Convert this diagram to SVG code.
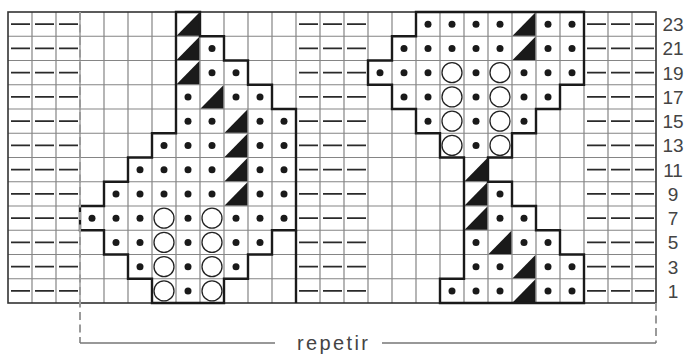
<svg xmlns="http://www.w3.org/2000/svg" width="684" height="354" viewBox="0 0 684 354">
<style>
.grid{fill:none;stroke:#858585;stroke-width:1.2}
.frame{fill:none;stroke:#333;stroke-width:1.6}
.dash{fill:none;stroke:#2a2a2a;stroke-width:1.8}
.thick{fill:none;stroke:#1a1a1a;stroke-width:2.4;stroke-linejoin:miter}
.rep{fill:none;stroke:#9a9a9a;stroke-width:2;stroke-dasharray:8 4.5}
.brk{fill:none;stroke:#777;stroke-width:1.5}
.lbl{font-family:"Liberation Sans",Arial,sans-serif;font-size:19px;fill:#444;text-anchor:middle}
</style>
<defs>
<circle id="d" cx="12" cy="12.125" r="3.5" fill="#1a1a1a"/>
<circle id="o" cx="12" cy="12.125" r="10" fill="#fff" stroke="#222" stroke-width="1.3"/>
<path id="t" d="M0.6,23.7 L23.4,23.7 L23.4,0.6 Z" fill="#1a1a1a"/>
</defs>
<rect x="0" y="0" width="684" height="354" fill="#fff"/>
<g id="grid">
<path class="grid" d="M32,12V303M56,12V303M80,12V303M104,12V303M128,12V303M152,12V303M176,12V303M200,12V303M224,12V303M248,12V303M272,12V303M296,12V303M320,12V303M344,12V303M368,12V303M392,12V303M416,12V303M440,12V303M464,12V303M488,12V303M512,12V303M536,12V303M560,12V303M584,12V303M608,12V303M632,12V303M8,36.25H656M8,60.5H656M8,84.75H656M8,109H656M8,133.25H656M8,157.5H656M8,181.75H656M8,206H656M8,230.25H656M8,254.5H656M8,278.75H656"/>
<rect class="frame" x="8" y="12" width="648" height="291"/>
</g>
<g id="edge-dashes">
<path class="dash" d="M11,24.13h19M35,24.13h19M59,24.13h19M299,24.13h19M323,24.13h19M347,24.13h19M587,24.13h19M611,24.13h19M635,24.13h19
M11,48.38h19M35,48.38h19M59,48.38h19M299,48.38h19M323,48.38h19M347,48.38h19M587,48.38h19M611,48.38h19M635,48.38h19
M11,72.63h19M35,72.63h19M59,72.63h19M299,72.63h19M323,72.63h19M347,72.63h19M587,72.63h19M611,72.63h19M635,72.63h19
M11,96.88h19M35,96.88h19M59,96.88h19M299,96.88h19M323,96.88h19M347,96.88h19M587,96.88h19M611,96.88h19M635,96.88h19
M11,121.13h19M35,121.13h19M59,121.13h19M299,121.13h19M323,121.13h19M347,121.13h19M587,121.13h19M611,121.13h19M635,121.13h19
M11,145.38h19M35,145.38h19M59,145.38h19M299,145.38h19M323,145.38h19M347,145.38h19M587,145.38h19M611,145.38h19M635,145.38h19
M11,169.63h19M35,169.63h19M59,169.63h19M299,169.63h19M323,169.63h19M347,169.63h19M587,169.63h19M611,169.63h19M635,169.63h19
M11,193.88h19M35,193.88h19M59,193.88h19M299,193.88h19M323,193.88h19M347,193.88h19M587,193.88h19M611,193.88h19M635,193.88h19
M11,218.13h19M35,218.13h19M59,218.13h19M299,218.13h19M323,218.13h19M347,218.13h19M587,218.13h19M611,218.13h19M635,218.13h19
M11,242.38h19M35,242.38h19M59,242.38h19M299,242.38h19M323,242.38h19M347,242.38h19M587,242.38h19M611,242.38h19M635,242.38h19
M11,266.63h19M35,266.63h19M59,266.63h19M299,266.63h19M323,266.63h19M347,266.63h19M587,266.63h19M611,266.63h19M635,266.63h19
M11,290.88h19M35,290.88h19M59,290.88h19M299,290.88h19M323,290.88h19M347,290.88h19M587,290.88h19M611,290.88h19M635,290.88h19"/>
</g>
<g id="motif-left">
<use href="#t" x="176" y="12"/>
<use href="#t" x="176" y="36.25"/><use href="#d" x="200" y="36.25"/>
<use href="#t" x="176" y="60.5"/><use href="#d" x="200" y="60.5"/><use href="#d" x="224" y="60.5"/>
<use href="#d" x="176" y="84.75"/><use href="#t" x="200" y="84.75"/><use href="#d" x="224" y="84.75"/><use href="#d" x="248" y="84.75"/>
<use href="#d" x="176" y="109"/><use href="#d" x="200" y="109"/><use href="#t" x="224" y="109"/><use href="#d" x="248" y="109"/><use href="#d" x="272" y="109"/>
<use href="#d" x="152" y="133.25"/><use href="#d" x="176" y="133.25"/><use href="#d" x="200" y="133.25"/><use href="#t" x="224" y="133.25"/><use href="#d" x="248" y="133.25"/><use href="#d" x="272" y="133.25"/>
<use href="#d" x="128" y="157.5"/><use href="#d" x="152" y="157.5"/><use href="#d" x="176" y="157.5"/><use href="#d" x="200" y="157.5"/><use href="#t" x="224" y="157.5"/><use href="#d" x="248" y="157.5"/><use href="#d" x="272" y="157.5"/>
<use href="#d" x="104" y="181.75"/><use href="#d" x="128" y="181.75"/><use href="#d" x="152" y="181.75"/><use href="#d" x="176" y="181.75"/><use href="#d" x="200" y="181.75"/><use href="#t" x="224" y="181.75"/><use href="#d" x="248" y="181.75"/><use href="#d" x="272" y="181.75"/>
<use href="#d" x="80" y="206"/><use href="#d" x="104" y="206"/><use href="#d" x="128" y="206"/><use href="#o" x="152" y="206"/><use href="#d" x="176" y="206"/><use href="#o" x="200" y="206"/><use href="#d" x="224" y="206"/><use href="#d" x="248" y="206"/><use href="#d" x="272" y="206"/>
<use href="#d" x="104" y="230.25"/><use href="#d" x="128" y="230.25"/><use href="#o" x="152" y="230.25"/><use href="#d" x="176" y="230.25"/><use href="#o" x="200" y="230.25"/><use href="#d" x="224" y="230.25"/><use href="#d" x="248" y="230.25"/>
<use href="#d" x="128" y="254.5"/><use href="#o" x="152" y="254.5"/><use href="#d" x="176" y="254.5"/><use href="#o" x="200" y="254.5"/><use href="#d" x="224" y="254.5"/>
<use href="#o" x="152" y="278.75"/><use href="#d" x="176" y="278.75"/><use href="#o" x="200" y="278.75"/>
</g>
<g id="motif-right">
<use href="#d" x="416" y="12"/><use href="#d" x="440" y="12"/><use href="#d" x="464" y="12"/><use href="#d" x="488" y="12"/><use href="#t" x="512" y="12"/><use href="#d" x="536" y="12"/><use href="#d" x="560" y="12"/>
<use href="#d" x="392" y="36.25"/><use href="#d" x="416" y="36.25"/><use href="#d" x="440" y="36.25"/><use href="#d" x="464" y="36.25"/><use href="#d" x="488" y="36.25"/><use href="#t" x="512" y="36.25"/><use href="#d" x="536" y="36.25"/><use href="#d" x="560" y="36.25"/>
<use href="#d" x="368" y="60.5"/><use href="#d" x="392" y="60.5"/><use href="#d" x="416" y="60.5"/><use href="#o" x="440" y="60.5"/><use href="#d" x="464" y="60.5"/><use href="#o" x="488" y="60.5"/><use href="#d" x="512" y="60.5"/><use href="#d" x="536" y="60.5"/><use href="#d" x="560" y="60.5"/>
<use href="#d" x="392" y="84.75"/><use href="#d" x="416" y="84.75"/><use href="#o" x="440" y="84.75"/><use href="#d" x="464" y="84.75"/><use href="#o" x="488" y="84.75"/><use href="#d" x="512" y="84.75"/><use href="#d" x="536" y="84.75"/>
<use href="#d" x="416" y="109"/><use href="#o" x="440" y="109"/><use href="#d" x="464" y="109"/><use href="#o" x="488" y="109"/><use href="#d" x="512" y="109"/>
<use href="#o" x="440" y="133.25"/><use href="#d" x="464" y="133.25"/><use href="#o" x="488" y="133.25"/>
<use href="#t" x="464" y="157.5"/>
<use href="#t" x="464" y="181.75"/><use href="#d" x="488" y="181.75"/>
<use href="#t" x="464" y="206"/><use href="#d" x="488" y="206"/><use href="#d" x="512" y="206"/>
<use href="#d" x="464" y="230.25"/><use href="#t" x="488" y="230.25"/><use href="#d" x="512" y="230.25"/><use href="#d" x="536" y="230.25"/>
<use href="#d" x="464" y="254.5"/><use href="#d" x="488" y="254.5"/><use href="#t" x="512" y="254.5"/><use href="#d" x="536" y="254.5"/><use href="#d" x="560" y="254.5"/>
<use href="#d" x="440" y="278.75"/><use href="#d" x="464" y="278.75"/><use href="#d" x="488" y="278.75"/><use href="#t" x="512" y="278.75"/><use href="#d" x="536" y="278.75"/><use href="#d" x="560" y="278.75"/>
</g>
<g id="outlines">
<path class="thick" d="M176,12H200V36.25H224V60.5H248V84.75H272V109H296V230.25H272V254.5H248V278.75H224V303H152V278.75H128V254.5H104V230.25H80V206H104V181.75H128V157.5H152V133.25H176Z"/>
<path class="thick" d="M296,230.25V303"/>
<path class="thick" d="M416,12H584V84.75H560V109H536V133.25H512V157.5H488V181.75H512V206H536V230.25H560V254.5H584V303H440V278.75H464V157.5H440V133.25H416V109H392V84.75H368V60.5H392V36.25H416Z"/>
</g>
<g id="repeat-bracket">
<path class="rep" d="M80,12V343"/>
<path class="rep" d="M656,303V343"/>
<path class="brk" d="M80,343H275M382,343H656"/>
<text x="332.5" y="350" font-family="Liberation Sans, Arial, sans-serif" font-size="20" fill="#444" text-anchor="middle" textLength="71" lengthAdjust="spacing">repetir</text>
</g>
<g id="row-labels">
<text class="lbl" x="673" y="31.1">23</text>
<text class="lbl" x="673" y="55.4">21</text>
<text class="lbl" x="673" y="79.6">19</text>
<text class="lbl" x="673" y="103.9">17</text>
<text class="lbl" x="673" y="128.1">15</text>
<text class="lbl" x="673" y="152.4">13</text>
<text class="lbl" x="673" y="176.6">11</text>
<text class="lbl" x="673" y="200.9">9</text>
<text class="lbl" x="673" y="225.1">7</text>
<text class="lbl" x="673" y="249.4">5</text>
<text class="lbl" x="673" y="273.6">3</text>
<text class="lbl" x="673" y="297.9">1</text>
</g>
</svg>
